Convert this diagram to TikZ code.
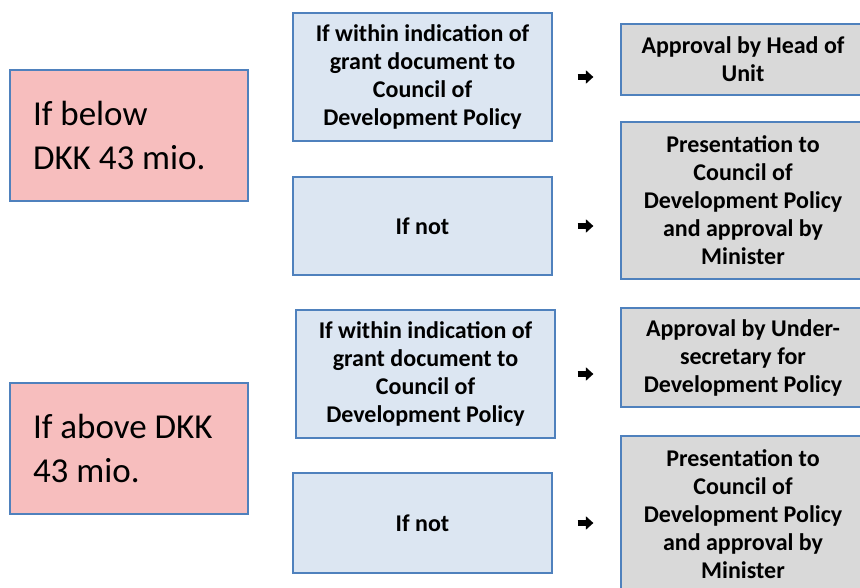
\documentclass[tikz,border=0pt]{standalone}
\usepackage{fontspec}
\setmainfont{Carlito}
\usepackage{tikz}
\usetikzlibrary{positioning}
\usetikzlibrary{arrows.meta}
\definecolor{myborder}{RGB}{79,129,189}
\definecolor{myred}{RGB}{247,190,190}
\definecolor{myblue}{RGB}{220,230,242}
\definecolor{mygray}{RGB}{217,217,217}
\tikzstyle{mybox}=[rectangle, draw=myborder, line width=1.2pt, inner sep=0pt]
\tikzstyle{limit}=[mybox, fill=myred, minimum width=238pt, minimum height=131pt, text width=192pt, align=flush left, font=\fontsize{35}{44}\selectfont]
\tikzstyle{condition}=[mybox, fill=myblue, minimum width=259pt, align=flush center, font=\bfseries\fontsize{24}{28}\selectfont]
\tikzstyle{decision}=[mybox, fill=mygray, minimum width=244pt, align=flush center, font=\bfseries\fontsize{24}{28}\selectfont]
\tikzstyle{connect arrow}=[-{Triangle[length=7.5pt,width=13pt]}, line width=6pt, black, shorten <=25pt, shorten >=27pt]

\begin{document}
\begin{tikzpicture}[x=1pt, y=-1pt]

\clip (0,0) rectangle (860,588);
\useasboundingbox (0,0) rectangle (860,588);

% amount limits
\node[limit] (below) at (129,135.5) {If below\\DKK 43 mio.};
\node[limit] (above) at (129,448.5) {If above DKK\\43 mio.};

% conditions
\node[condition, minimum height=128pt] (within1) at (422.5,77) {If within indication of\\grant document to\\Council of\\Development Policy};
\node[condition, minimum height=98pt] (not1) at (422.5,226) {If not};
\node[condition, minimum height=128pt] (within2) at (425.5,374) {If within indication of\\grant document to\\Council of\\Development Policy};
\node[condition, minimum height=100pt] (not2) at (422.5,523) {If not};

% outcomes
\node[decision, minimum height=71pt] (head) at (743,59.5) {Approval by Head of\\Unit};
\node[decision, minimum height=157pt] (minister1) at (743,200.5) {Presentation to\\Council of\\Development Policy\\and approval by\\Minister};
\node[decision, minimum height=99pt] (under) at (743,357.5) {Approval by Under-\\secretary for\\Development Policy};
\node[decision, minimum height=157pt] (minister2) at (743,514.5) {Presentation to\\Council of\\Development Policy\\and approval by\\Minister};

\begin{scope}[connect arrow]
    \draw (within1.east) to (within1.east -| head.west);
    \draw (not1.east) to (not1.east -| minister1.west);
    \draw[shorten <=22pt] (within2.east) to (within2.east -| under.west);
    \draw (not2.east) to (not2.east -| minister2.west);
\end{scope}

\end{tikzpicture}
\end{document}
